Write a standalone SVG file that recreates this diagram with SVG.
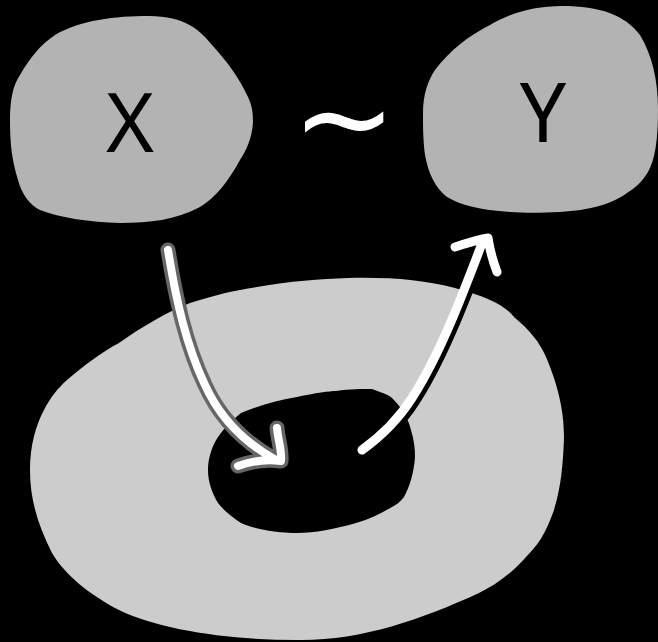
<svg xmlns="http://www.w3.org/2000/svg" width="658" height="642" viewBox="0 0 658 642">
<style>
.blob{fill:#b3b3b3}
.lbl{font-family:"Noto Sans","Open Sans",sans-serif;font-size:82px;fill:#000;text-anchor:middle}
.tilde{font-family:"DejaVu Sans",sans-serif;font-size:125px;fill:#fff;text-anchor:middle}
.w{fill:none;stroke:#fff;stroke-linecap:round;stroke-linejoin:round}
</style>
<rect width="658" height="642" fill="#000"/>
<g id="torus">
<path fill="#cccccc" fill-rule="evenodd" d="M348,278 C390,277 425,280 455,288 C485,296 505,305 514,317 C530,330 540,343 546,357 C560,390 564,415 564,437 C563,470 560,490 554,510 C545,535 538,545 526,557 C510,575 495,585 479,593 C420,620 360,641 297,640 C230,640 160,630 119,610 C90,595 65,575 52,553 C38,525 30,500 30,470 C30,445 36,425 44,410 C50,398 58,388 67,380 C85,365 100,353 119,343 C140,328 165,313 190,303 C215,295 235,290 257,287 C290,281 320,279 348,278 Z
M372,389 L380,392 C386,394 390,396 392,398 C402,408 408,418 411,430 C414,440 415,448 415,457 C414,472 410,486 404,497 C400,502 396,505 392,507 C380,514 370,519 356,523 C335,529 315,533 297,533 C275,533 255,529 241,523 C232,517 224,511 218,503 C212,493 208,482 208,470 C208,458 212,446 218,437 C224,428 232,420 241,413 C260,405 278,400 297,397 C315,393 330,391 336,391 C350,389 362,389 372,389 Z"/>
</g>
<g id="nodeX">
<path class="blob" d="M149,16 C185,16 200,30 212,45 C228,62 240,80 247,95 C252,105 253,112 253,122 C252,140 245,152 240,160 C228,182 215,198 200,207 C175,220 150,223 120,223 C90,222 60,218 40,210 C30,205 22,195 18,180 C12,160 10,145 10,120 C10,100 13,85 20,75 C30,58 40,45 55,35 C80,20 115,16 149,16 Z"/>
<text class="lbl" x="130" y="152">X</text>
</g>
<g id="nodeY">
<path class="blob" d="M562,6 C600,6 625,15 640,35 C652,55 658,80 658,110 C658,140 655,160 648,172 C642,182 635,188 627,193 C610,205 590,210 560,212 C540,213 525,213 510,212 C480,210 460,205 447,197 C435,188 428,172 425,155 C423,140 423,125 423,113 C423,95 428,80 435,70 C450,50 470,35 490,25 C510,13 535,6 562,6 Z"/>
<text class="lbl" x="543" y="142">Y</text>
</g>
<g id="tilde">
<text class="tilde" x="344" y="161">~</text>
</g>
<g id="connectors">
<g id="arrowXin">
<path d="M168,250 C176,300 186,345 205,385 C220,418 245,443 276,460 M277,428 C278,440 282,450 281,461 C268,459 252,461 238,466" fill="none" stroke="#666" stroke-width="15" stroke-linecap="round" stroke-linejoin="round"/>
<path class="w" stroke-width="8" d="M168,250 C176,300 186,345 205,385 C220,418 245,443 276,460 M277,428 C278,440 282,450 281,461 C268,459 252,461 238,466"/>
</g>
<g id="arrowOutY">
<path d="M362,450 C380,437 398,420 412,398 C430,370 448,330 460,300 C468,280 476,260 482,243 M455,247 C465,244 475,240 488,238 C490,252 494,264 497,272" fill="none" stroke="#000" stroke-width="13" stroke-linecap="round" stroke-linejoin="round" transform="translate(2,2)"/>
<path class="w" stroke-width="9" d="M362,450 C380,437 398,420 412,398 C430,370 448,330 460,300 C468,280 476,260 482,243 M455,247 C465,244 475,240 488,238 C490,252 494,264 497,272"/>
</g>
</g>
</svg>
